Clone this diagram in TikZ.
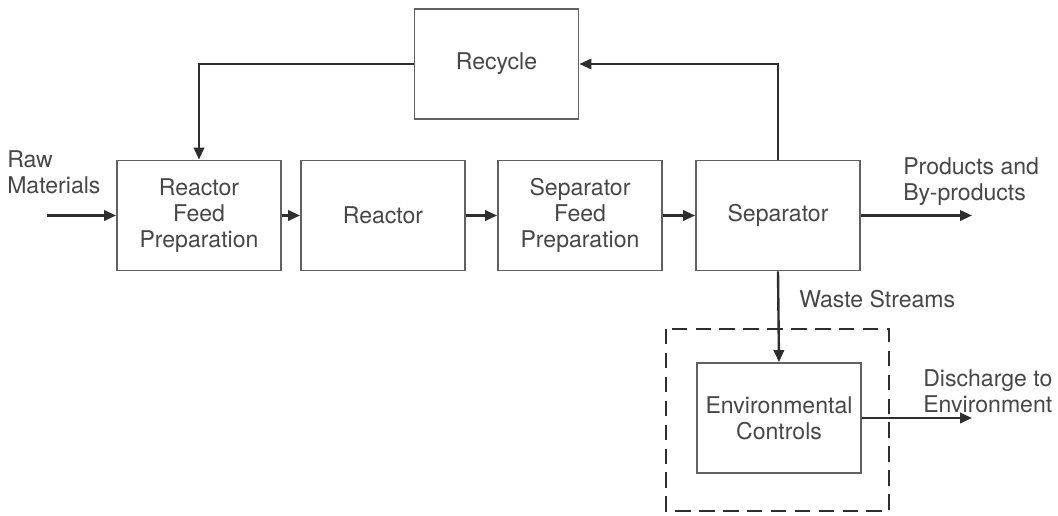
\documentclass[tikz,border=0pt]{standalone}
\usepackage{fontspec}
\setmainfont{TeX Gyre Heros}
\usepackage{tikz}
\usetikzlibrary{arrows.meta}
\colorlet{boxgrey}{black!62}
\colorlet{textgrey}{black!72}
\colorlet{flowgrey}{black!82}
\tikzset{
  unit/.style={draw=boxgrey, line width=1.3pt, fill=white, align=center,
    minimum width=4.1cm, minimum height=2.75cm, inner sep=2pt, text=textgrey,
    font=\fontsize{16.4}{18.5}\selectfont},
  flow/.style={-{Triangle[length=0.3cm, width=0.26cm]}, line width=1.7pt, draw=flowgrey},
  slabel/.style={align=left, anchor=north west, inner sep=0pt, text=textgrey,
    font=\fontsize{16.4}{18.5}\selectfont},
  plantedge/.style={draw=flowgrey, line width=1.5pt, dash pattern=on 11pt off 6pt},
}

\begin{document}
\begin{tikzpicture}[x=0.025cm,y=-0.025cm]
\useasboundingbox[fill=white] (0,0) rectangle (1058,515);
% main train
\node[unit] (feedprep) at (199,215.5) {Reactor\\Feed\\Preparation};
\node[unit] (reactor) at (383,215.5) {Reactor};
\node[unit] (sepfeed) at (580,215.5) {Separator\\Feed\\Preparation};
\node[unit] (separator) at (778,215.5) {Separator};
\node[unit] (recycle) at (496.5,64) {Recycle};
% treatment, inside the dashed boundary
\draw[plantedge] (666,329) rectangle (889,511);
\node[unit] (envctrl) at (779,418) {Environmental\\Controls};
% free ends
\coordinate (rawin) at (47,215.5);
\coordinate (prodout) at (972,215.5);
\coordinate (dischout) at (972,418);
% stream labels
\node[slabel] (rawlbl) at (7,150) {Raw\\Materials};
\node[slabel] (prodlbl) at (903,157) {Products and\\By-products};
\node[slabel] (wastelbl) at (799,290) {Waste Streams};
\node[slabel] (dischlbl) at (923,369) {Discharge to\\Environment};
% flows
\draw[flow] (rawin) -- (feedprep.west);
\draw[flow] (feedprep.east) -- (reactor.west);
\draw[flow] (reactor.east) -- (sepfeed.west);
\draw[flow] (sepfeed.east) -- (separator.west);
\draw[flow] (separator.east) -- (prodout);
\draw[flow] (separator.north) |- (recycle.east);
\draw[flow] (recycle.west) -| (feedprep.north);
\draw[flow] (separator.south) -- (envctrl.north);
\draw[flow] (envctrl.east) -- (dischout);
\end{tikzpicture}
\end{document}
